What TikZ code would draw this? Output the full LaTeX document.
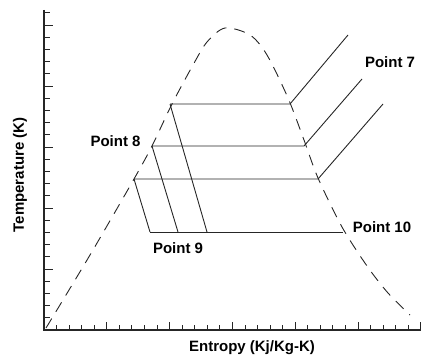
\documentclass[tikz,border=0pt]{standalone}
\usepackage{fontspec}
\setmainfont{Liberation Sans}
\begin{document}
\begin{tikzpicture}[x=1pt,y=-1pt,
  axis/.style={line width=1.4pt,black!85},
  tickmark/.style={line width=0.9pt,black!85},
  cycleline/.style={line width=0.9pt,black!85},
  domeline/.style={line width=0.9pt,black!85,dash pattern=on 11pt off 8pt},
  lbl/.style={font=\fontsize{15}{17}\selectfont\bfseries,inner sep=0pt}]
\useasboundingbox (0,0) rectangle (422,358);
% axes
\coordinate (O) at (44,330);
\coordinate (Ytop) at (44,10);
\coordinate (Xend) at (421,330);
\draw[axis] (Ytop) -- (O) -- (Xend);
% y ticks
\foreach \k in {1,...,26}{
  \pgfmathsetmacro{\yy}{330-12.2*\k}
  \pgfmathtruncatemacro{\mm}{mod(\k,5)}
  \ifnum\mm=0
    \draw[tickmark] (44,\yy) -- (53,\yy);
  \else
    \draw[tickmark] (44,\yy) -- (50,\yy);
  \fi
}
% x ticks
\foreach \k in {1,...,30}{
  \pgfmathsetmacro{\xx}{44+12.56*\k}
  \pgfmathtruncatemacro{\mm}{mod(\k,5)}
  \ifnum\mm=0
    \draw[tickmark] (\xx,330) -- (\xx,322);
  \else
    \draw[tickmark] (\xx,330) -- (\xx,325);
  \fi
}
% saturation dome
\draw[domeline] plot[smooth,tension=0.5] coordinates {(46,328) (90,255) (134,179) (152,146) (172,104) (193,65) (207,42) (225,28) (250,35) (267,55) (288,98) (304,140) (318,178) (342,227) (367,266) (388,293) (410,315)};
% cycle points
\coordinate (a1) at (170,104);
\coordinate (a2) at (152,146);
\coordinate (a3) at (134,179);
\coordinate (b1) at (290,104);
\coordinate (b2) at (304,146);
\coordinate (b3) at (318,179);
\coordinate (c1) at (348,35);
\coordinate (c2) at (362,79);
\coordinate (c3) at (383,104);
\coordinate (d0) at (150,232);
\coordinate (d2) at (178,232);
\coordinate (d1) at (207,232);
\coordinate (d9) at (343,232);
\draw[cycleline] (a1) -- (b1) -- (c1);
\draw[cycleline] (a2) -- (b2) -- (c2);
\draw[cycleline] (a3) -- (b3) -- (c3);
\draw[cycleline] (d0) -- (d9);
\draw[cycleline] (a3) -- (d0);
\draw[cycleline] (a2) -- (d2);
\draw[cycleline] (a1) -- (d1);
% labels
\node[lbl] (p7) at (390,62) {Point 7};
\node[lbl] (p8) at (115.5,141) {Point 8};
\node[lbl] (p9) at (178,248) {Point 9};
\node[lbl] (p10) at (382,227) {Point 10};
\node[lbl,rotate=90] (ylab) at (20,175) {Temperature (K)};
\node[lbl] (xlab) at (252,348) {Entropy (Kj/Kg-K)};
\end{tikzpicture}
\end{document}
